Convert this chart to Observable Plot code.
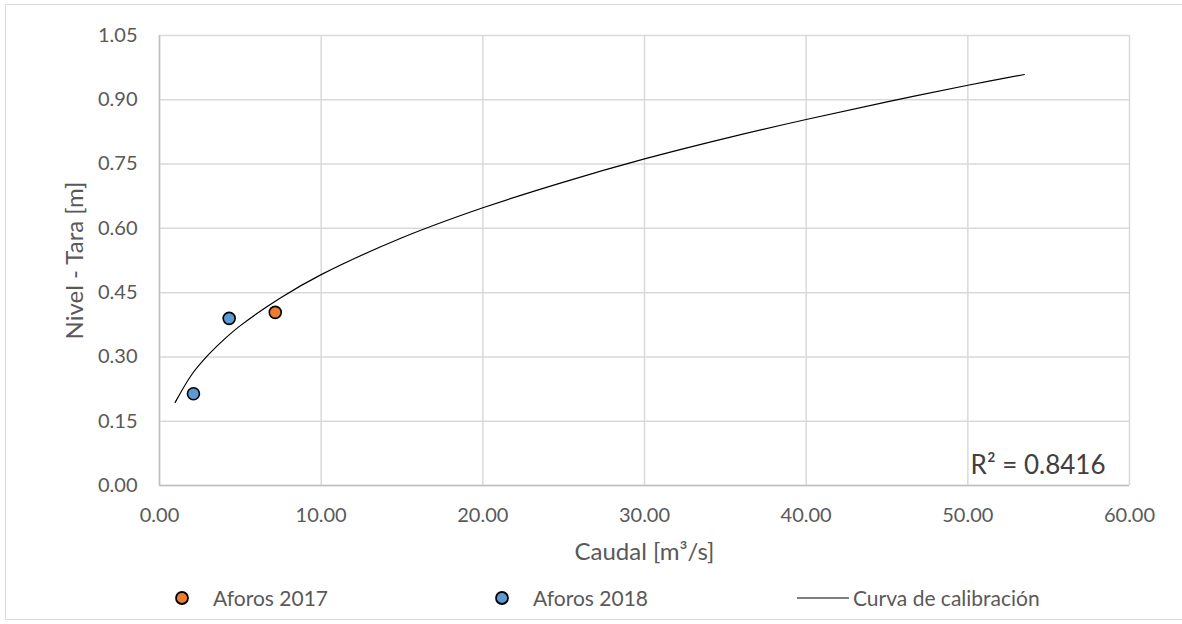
<!DOCTYPE html>
<html>
<head>
<meta charset="utf-8">
<script src="https://cdn.jsdelivr.net/npm/d3@7"></script>
<script src="https://cdn.jsdelivr.net/npm/@observablehq/plot@0.6"></script>
<style>
  html, body { margin: 0; padding: 0; background: #fff; }
  #wrap { position: relative; width: 1182px; height: 624px; overflow: hidden; font-family: Lato, "Open Sans", sans-serif; }
  #frame { position: absolute; left: 5px; top: 4px; width: 1190px; height: 616px; border: 1.5px solid #d9d9d9; box-sizing: border-box; }
  #chart { position: absolute; left: 0; top: 0; }
  .leg { position: absolute; top: 586px; font-size: 21px; color: #595959; line-height: 24px; white-space: nowrap; }
</style>
</head>
<body>
<div id="wrap">
  <div id="frame"></div>
  <div id="chart"></div>
  <div id="legend"></div>
</div>
<script>
// Data
const aforos2017Caudal = [7.16];
const aforos2017Nivel  = [0.404];
const aforos2018Caudal = [2.10, 4.31];
const aforos2018Nivel  = [0.214, 0.390];
const curvaCaudal = [0.97, 2, 3, 4, 5, 7.5, 10, 15, 20, 25, 30, 35, 40, 45, 50, 53.5];
const curvaNivel  = [0.194, 0.259, 0.304, 0.341, 0.373, 0.438, 0.492, 0.578, 0.648, 0.708, 0.762, 0.810, 0.854, 0.895, 0.934, 0.959];
const xTicks = [0, 10, 20, 30, 40, 50, 60];
const yTicks = [0, 0.15, 0.30, 0.45, 0.60, 0.75, 0.90, 1.05];
const r2Label = "R² = 0.8416";
const seriesNames = ["Aforos 2017", "Aforos 2018", "Curva de calibración"];
const seriesColors = ["#ED7D31", "#5B9BD5", "#000000"];

const pts2017 = aforos2017Caudal.map((x, i) => ({x, y: aforos2017Nivel[i]}));
const pts2018 = aforos2018Caudal.map((x, i) => ({x, y: aforos2018Nivel[i]}));
const curva = curvaCaudal.map((x, i) => ({x, y: curvaNivel[i]}));

const fmt = d3.format(".2f");

const chart = Plot.plot({
  width: 1182,
  height: 580,
  marginLeft: 159,
  marginRight: 53,
  marginTop: 35,
  marginBottom: 95,
  style: { fontFamily: "Lato, 'Open Sans', sans-serif", fontSize: "20px", color: "#595959", background: "transparent" },
  x: { domain: [0, 60] },
  y: { domain: [0, 1.05] },
  marks: [
    Plot.gridX(xTicks, { stroke: "#d9d9d9", strokeOpacity: 1, strokeWidth: 1.5 }),
    Plot.gridY(yTicks, { stroke: "#d9d9d9", strokeOpacity: 1, strokeWidth: 1.5 }),
    Plot.ruleY([0], { stroke: "#bfbfbf", strokeWidth: 1.5 }),
    Plot.ruleX([0], { stroke: "#bfbfbf", strokeWidth: 1.5 }),
    Plot.axisX(xTicks, { tickSize: 0, tickPadding: 22, tickFormat: fmt, label: "Caudal [m³/s]", labelAnchor: "center", labelArrow: "none", labelOffset: 74, fontSize: 20 }),
    Plot.axisY(yTicks, { tickSize: 0, tickPadding: 22, tickFormat: fmt, label: "Nivel - Tara [m]", labelAnchor: "center", labelArrow: "none", labelOffset: 94, fontSize: 20 }),
    Plot.line(curva, { x: "x", y: "y", stroke: seriesColors[2], strokeWidth: 1.2, curve: "catmull-rom" }),
    Plot.dot(pts2018, { x: "x", y: "y", r: 6, fill: seriesColors[1], stroke: "#000", strokeWidth: 1.6 }),
    Plot.dot(pts2017, { x: "x", y: "y", r: 6, fill: seriesColors[0], stroke: "#000", strokeWidth: 1.6 }),
    Plot.text([r2Label], { frameAnchor: "bottom-right", dx: -24, dy: -12, fontSize: 26, fill: "#404040", text: d => d })
  ]
});
document.getElementById("chart").appendChild(chart);

// Axis title sizes
chart.querySelectorAll("[aria-label='x-axis label'] text, [aria-label='y-axis label'] text").forEach(t => t.setAttribute("font-size", "24"));

// Legend
const legend = document.getElementById("legend");
const legItems = [
  { kind: "dot", color: seriesColors[0], mx: 182, tx: 213, name: seriesNames[0] },
  { kind: "dot", color: seriesColors[1], mx: 502, tx: 533, name: seriesNames[1] },
  { kind: "line", color: seriesColors[2], mx: 797, tx: 853, name: seriesNames[2] }
];
legItems.forEach(it => {
  const s = document.createElementNS("http://www.w3.org/2000/svg", "svg");
  s.style.position = "absolute";
  if (it.kind === "dot") {
    s.setAttribute("width", 18); s.setAttribute("height", 18);
    s.style.left = (it.mx - 9) + "px"; s.style.top = (598 - 9) + "px";
    s.innerHTML = `<circle cx="9" cy="9" r="6" fill="${it.color}" stroke="#000" stroke-width="1.8"/>`;
  } else {
    s.setAttribute("width", 52); s.setAttribute("height", 4);
    s.style.left = it.mx + "px"; s.style.top = (598 - 2) + "px";
    s.innerHTML = `<line x1="0" x2="52" y1="2" y2="2" stroke="${it.color}" stroke-width="1.2"/>`;
  }
  legend.appendChild(s);
  const t = document.createElement("div");
  t.className = "leg";
  t.style.left = it.tx + "px";
  t.textContent = it.name;
  legend.appendChild(t);
});
</script>
</body>
</html>
